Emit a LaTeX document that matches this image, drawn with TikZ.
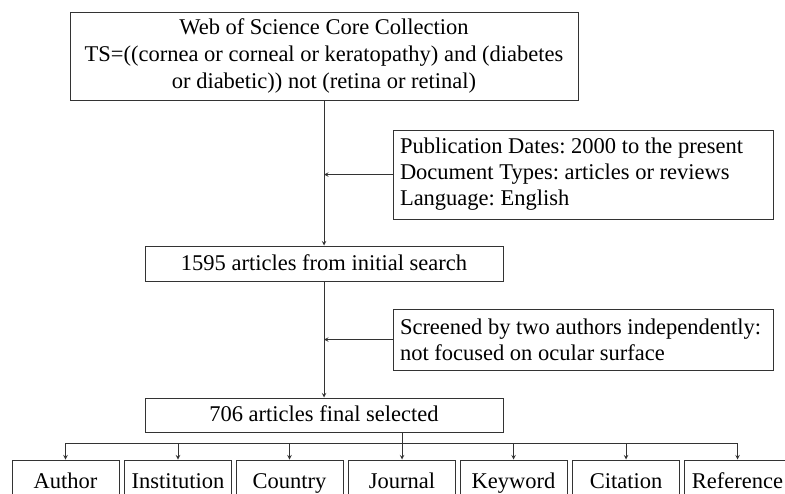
\documentclass[tikz,border=0pt]{standalone}
\usepackage{fontspec}
\setmainfont{Liberation Serif}
\usepackage{tikz}
\usetikzlibrary{shapes.geometric, arrows}
\usetikzlibrary{positioning}

\begin{document}
\frenchspacing
\begin{tikzpicture}[x=1pt,y=1pt,yscale=-1,xscale=1]
  \clip (0,0) rectangle (785,493); %picture is 785 wide and 493 high
  \tikzstyle{arrow} = [->,>=stealth,line width=1pt,draw=black!80]
  \tikzstyle{line} = [line width=1pt,draw=black!80]
  \tikzstyle{box} = [draw=black!80,line width=1pt,inner sep=0pt,font=\fontsize{22.5}{26}\selectfont]
  \tikzstyle{item} = [box,minimum width=107,minimum height=40,text height=19,text depth=2]
  \tikzstyle{side} = [box,text width=372,inner xsep=4pt,align=flush left]
  %Main boxes down the middle
  \node [box,minimum width=508,minimum height=88,align=center,font=\fontsize{22.5}{27}\selectfont] (wos) at (324,56)
    {Web of Science Core Collection\\TS=((cornea or corneal or keratopathy) and (diabetes\\or diabetic)) not (retina or retinal)};
  \node [box,minimum width=358,minimum height=35,text height=17,text depth=4] (init) at (324,263.5) {1595 articles from initial search};
  \node [box,minimum width=358,minimum height=34,text height=17,text depth=4] (fin) at (324,415) {706 articles final selected};
  %Boxes on the side
  \node [side,minimum height=89] (limits) at (583,174.5)
    {\hspace*{3pt}Publication Dates: 2000 to the present\\\hspace*{3pt}Document Types: articles or reviews\\\hspace*{3pt}Language: English};
  \node [side,minimum height=61] (screen) at (583,339.5)
    {\mbox{\hspace*{3pt}Screened by two authors independently:}\\\hspace*{3pt}not focused on ocular surface};
  %Boxes along the bottom
  \node [item] (author) at (65.5,480) {Author};
  \node [item] (inst) at (178,480) {Institution};
  \node [item] (country) at (289.5,480) {Country};
  \node [item] (journal) at (402,480) {Journal};
  \node [item] (keyword) at (513.5,480) {Keyword};
  \node [item] (citation) at (626,480) {Citation};
  \node [item] (reference) at (737.5,480) {Reference};
  %Arrows
  \draw [arrow] (wos) -- (init);
  \draw [arrow] (limits.west) -- (limits.west -| wos.south);
  \draw [arrow] (init) -- (fin);
  \draw [arrow] (screen.west) -- (screen.west -| fin.south);
  %Split to the bottom boxes
  \coordinate (bus) at (0,443);
  \draw [line] (fin.south -| journal.north) -- (bus -| journal.north);
  \draw [line] (bus -| author.north) -- (bus -| reference.north);
  \foreach \n in {author,inst,country,journal,keyword,citation,reference}
    \draw [arrow] (bus -| \n.north) -- (\n.north);
\end{tikzpicture}
\end{document}
